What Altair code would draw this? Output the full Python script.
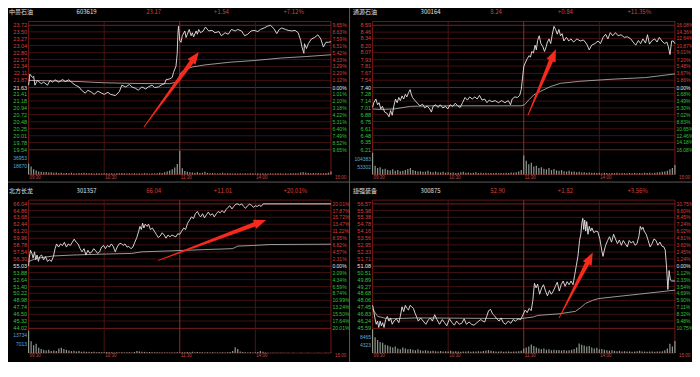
import altair as alt
import pandas as pd

# ------------------------------------------------------------------ header texts
NAMES = ["中曼石油", "通源石油", "北方长龙", "捷强装备"]
CODES = ["603619", "300164", "301357", "300875"]
LAST = ["23.17", "8.24", "66.04", "52.90"]
CHANGE = ["+1.54", "+0.84", "+11.01", "+1.82"]
CHANGE_PCT = ["+7.12%", "+11.35%", "+20.01%", "+3.56%"]

TIME_T = [0, 60, 120, 180]
TIME_TXT = ["09:30", "10:30", "11:30", "14:00"]
END_T = [240]
END_TXT = ["15:00"]

# ------------------------------------------------------------------ axis labels
TL_LEVELS = ["23.72", "23.50", "23.27", "23.04", "22.80", "22.57", "22.34", "22.11", "21.87", "21.63",
             "21.41", "21.18", "20.94", "20.72", "20.48", "20.25", "20.01", "19.78", "19.54"]
TL_PCTS = ["9.65%", "8.63%", "7.59%", "6.51%", "5.42%", "4.33%", "3.29%", "2.20%", "1.12%", "0.00%",
           "1.01%", "2.10%", "3.18%", "4.22%", "5.31%", "6.40%", "7.49%", "8.52%", "9.65%"]
TR_LEVELS = ["8.59", "8.46", "8.34", "8.20", "8.07", "7.93", "7.81", "7.67", "7.54", "7.40",
             "7.28", "7.14", "7.01", "6.88", "6.75", "6.61", "6.48", "6.35", "6.21"]
TR_PCTS = ["16.08%", "14.36%", "12.64%", "10.87%", "9.01%", "7.20%", "5.48%", "3.67%", "1.86%", "0.00%",
           "1.68%", "3.49%", "5.30%", "7.02%", "8.83%", "10.65%", "12.46%", "14.18%", "16.08%"]
BL_LEVELS = ["66.04", "64.86", "63.68", "62.44", "61.20", "59.96", "58.78", "57.54", "56.30", "55.03",
             "53.88", "52.64", "51.40", "50.22", "48.98", "47.74", "46.50", "45.32", "44.02"]
BL_PCTS = ["20.01%", "17.87%", "15.72%", "13.47%", "11.22%", "8.95%", "6.82%", "4.57%", "2.31%", "0.00%",
           "2.09%", "4.34%", "6.59%", "8.74%", "10.99%", "13.24%", "15.50%", "17.64%", "20.01%"]
BR_LEVELS = ["56.57", "55.98", "55.38", "54.78", "54.16", "53.56", "52.95", "52.33", "51.71", "51.08",
             "50.51", "49.89", "49.27", "48.68", "48.06", "47.45", "46.83", "46.24", "45.59"]
BR_PCTS = ["10.75%", "9.60%", "8.45%", "7.24%", "6.02%", "4.81%", "3.60%", "2.45%", "1.24%", "0.00%",
           "1.12%", "2.33%", "3.54%", "4.69%", "5.90%", "7.11%", "8.32%", "9.48%", "10.75%"]

VOL_LABELS = [["36953", "18670"], ["104383", "53302"], ["13734", "7013"], ["8465", "4323"]]
VOL_MAX = [56500, 170000, 18800, 13300]

# ------------------------------------------------------------------ price series (minute index, price)
TL_T = [0, 1, 3, 4, 5, 7, 10, 12, 15, 17,
        19, 21, 24, 27, 29, 32, 34, 37, 40, 42,
        45, 47, 50, 52, 55, 58, 60, 63, 65, 69,
        72, 74, 77, 80, 82, 85, 87, 90, 93, 95,
        98, 100, 103, 106, 108, 109, 112, 114, 115, 117,
        118, 118.5, 119, 120, 121, 122, 124, 125, 126, 127.5,
        129, 130, 131, 133, 134, 135, 136.5, 138.6, 140.4, 143,
        145.6, 148, 151, 153, 156, 158.5, 161, 164, 166, 169,
        171.5, 174, 176.6, 179, 182, 184, 187, 189.6, 192, 194.7,
        197, 199, 201, 204, 206, 209, 211.5, 214, 216, 217,
        218.5, 219, 220.6, 222, 224.5, 227, 229.6, 232, 234, 236,
        238, 240]
TL_P = [21.71, 22.08, 21.97, 22.01, 21.71, 21.87, 21.76, 21.81, 21.71, 21.87,
        21.81, 21.89, 21.81, 21.90, 21.83, 21.89, 21.81, 21.71, 21.65, 21.54,
        21.44, 21.54, 21.47, 21.40, 21.51, 21.44, 21.40, 21.47, 21.40, 21.36,
        21.49, 21.71, 21.65, 21.73, 21.65, 21.60, 21.54, 21.65, 21.58, 21.65,
        21.71, 21.63, 21.65, 21.73, 21.76, 21.89, 21.92, 21.97, 22.13, 22.35,
        22.78, 23.42, 23.69, 23.21, 23.15, 23.37, 23.53, 23.31, 23.42, 23.58,
        23.37, 23.47, 23.33, 23.53, 23.42, 23.58, 23.47, 23.53, 23.66, 23.53,
        23.55, 23.47, 23.51, 23.37, 23.47, 23.42, 23.58, 23.53, 23.58, 23.53,
        23.37, 23.42, 23.53, 23.55, 23.51, 23.58, 23.63, 23.69, 23.72, 23.61,
        23.44, 23.58, 23.63, 23.58, 23.55, 23.53, 23.55, 23.47, 23.21, 22.99,
        22.78, 23.10, 22.94, 23.10, 23.26, 23.31, 23.40, 23.26, 22.99, 23.15,
        23.15, 23.17]
TL_AVG_T = [0, 20, 40, 60, 80, 100, 112, 117, 119, 121, 124, 130, 140, 160, 180, 200, 220, 240]
TL_AVG_P = [21.87, 21.85, 21.83, 21.79, 21.77, 21.76, 21.76, 21.81, 21.94, 22.13, 22.24, 22.32, 22.39,
            22.48, 22.54, 22.62, 22.67, 22.73]

TR_T = [0, 1, 2.6, 4, 5.2, 6.5, 7.8, 9.6, 11.7, 13,
        14.3, 15.6, 16.9, 18.2, 19.5, 20.8, 22, 23.4, 24.7, 26,
        27.2, 28.5, 29.8, 30.6, 31.7, 33.7, 35.6, 37.6, 39.7, 41.5,
        43.3, 45.4, 46.7, 48, 50, 52, 53.7, 55.8, 57.9, 59.7,
        61.5, 63.6, 65.7, 67.5, 69.5, 71.4, 73.4, 75.3, 77.1, 79.1,
        81.2, 83, 84.9, 86.9, 89, 90.8, 92.6, 94.7, 97.3, 99.9,
        102.5, 105.1, 107.7, 109.5, 110.8, 112.9, 115, 116.8, 118, 119.1,
        120.1, 121.2, 122.7, 124.3, 125.3, 126.4, 127.7, 129, 130, 131,
        132.3, 133.6, 135.2, 136.5, 137.8, 138.8, 140.1, 141.4, 142.7, 144,
        145.3, 146.6, 147.9, 149.2, 150.5, 151.8, 153.9, 155.7, 157.5, 159.6,
        162.2, 164.8, 167.4, 170, 172, 173.9, 176.5, 179, 180.9, 183,
        185, 186.8, 188.7, 190.7, 192.8, 194.9, 197.2, 199.8, 202.4, 205,
        206.8, 208.9, 211, 212.8, 214.6, 216.7, 218.2, 219.8, 221.9, 224,
        225.8, 227.6, 229.7, 231.7, 233.6, 234.8, 236.1, 237.4, 238.7, 240]
TR_P = [7.02, 7.11, 7.18, 7.07, 7.11, 6.99, 7.04, 6.93, 6.90, 6.84,
        6.96, 6.87, 7.05, 7.18, 7.11, 7.21, 7.15, 7.24, 7.18, 7.27,
        7.22, 7.30, 7.36, 7.28, 7.21, 7.15, 7.10, 7.05, 7.08, 7.01,
        7.05, 6.99, 6.93, 7.04, 7.07, 7.02, 7.07, 7.01, 7.04, 6.99,
        7.07, 7.04, 7.10, 7.05, 7.02, 7.11, 7.21, 7.16, 7.22, 7.18,
        7.22, 7.18, 7.25, 7.16, 7.18, 7.11, 7.16, 7.13, 7.15, 7.11,
        7.15, 7.11, 7.15, 7.07, 7.18, 7.22, 7.21, 7.25, 7.36, 7.60,
        7.81, 7.87, 7.95, 8.01, 7.98, 8.09, 8.06, 8.21, 8.12, 8.30,
        8.39, 8.24, 8.18, 8.09, 8.18, 8.27, 8.33, 8.24, 8.42, 8.57,
        8.51, 8.42, 8.51, 8.39, 8.43, 8.29, 8.36, 8.29, 8.33, 8.27,
        8.33, 8.29, 8.31, 8.23, 8.12, 8.21, 8.24, 8.29, 8.24, 8.36,
        8.42, 8.33, 8.45, 8.39, 8.45, 8.39, 8.41, 8.36, 8.37, 8.33,
        8.27, 8.21, 8.30, 8.24, 8.33, 8.25, 8.41, 8.23, 8.30, 8.33,
        8.27, 8.36, 8.29, 8.24, 8.27, 8.18, 8.03, 8.29, 8.29, 8.24]
TR_AVG_T = [0, 6.5, 17, 30, 48, 74, 100, 118, 120.6, 124.3, 128, 133.6, 141.4, 149, 164.8, 190.7, 216.7, 240]
TR_AVG_P = [6.99, 6.98, 6.99, 7.04, 7.05, 7.05, 7.05, 7.05, 7.07, 7.17, 7.26, 7.33, 7.42, 7.48, 7.52,
            7.56, 7.59, 7.66]

BL_T = [0, 0.5, 1.5, 2.6, 3.6, 4.7, 5.7, 6.7, 7.8, 8.8,
        10.3, 11.9, 13.4, 15, 16.6, 18.1, 19.7, 21, 22.2, 23.8,
        25.3, 26.9, 28.4, 30, 31.5, 33.1, 34.7, 36.2, 37.8, 39.3,
        40.9, 42.4, 44, 45.5, 47.1, 48.6, 50.2, 51.7, 53.3, 54.8,
        56.4, 57.9, 59.5, 61, 62.6, 64.1, 65.7, 67.2, 68.8, 70.3,
        71.9, 73.4, 75, 76.5, 78.1, 79.6, 81.2, 82.8, 84.3, 85.9,
        87.4, 88.4, 89.5, 90.5, 91.5, 92.6, 94.1, 95.2, 96.7, 98.3,
        99.8, 101.4, 102.9, 104.5, 106, 107.6, 109.1, 110.7, 112.2, 113.8,
        115.3, 116.9, 118.4, 120, 121.5, 123.1, 124.6, 126.2, 127.8, 129.3,
        130.9, 132.4, 134, 135.5, 136.5, 138.1, 139.6, 141.2, 142.7, 144.3,
        145.9, 147.4, 149, 150.5, 152.1, 153.6, 155.2, 156.7, 158.3, 159.8,
        161.4, 162.9, 164.5, 166, 167.6, 169.1, 170.7, 172.2, 173.8, 175.3,
        176.9, 178.4, 180, 181.5, 183.1, 184.6, 186.2, 240]
BL_P = [55.03, 56.44, 57.84, 57.28, 56.44, 57.56, 56.15, 57.00, 55.87, 56.72,
        57.00, 56.15, 56.72, 55.87, 56.15, 55.87, 56.72, 58.12, 58.96, 58.40,
        58.96, 58.68, 59.25, 58.40, 58.96, 58.68, 59.25, 59.81, 59.25, 58.96,
        58.12, 57.56, 58.12, 57.00, 57.84, 57.28, 57.56, 58.12, 57.73, 57.28,
        57.56, 58.40, 58.68, 58.12, 58.68, 58.40, 58.96, 58.51, 57.56, 58.40,
        58.96, 59.08, 58.68, 58.96, 58.40, 58.51, 58.12, 58.40, 59.25, 60.09,
        61.21, 62.06, 61.50, 62.62, 61.77, 62.45, 62.06, 62.45, 61.50, 61.77,
        61.21, 60.65, 60.09, 60.37, 60.93, 60.54, 59.98, 60.54, 60.20, 60.54,
        60.37, 60.20, 60.76, 60.65, 61.21, 61.77, 61.50, 62.62, 63.18, 63.74,
        63.46, 64.30, 64.70, 64.02, 63.74, 64.30, 63.57, 64.13, 64.58, 64.02,
        64.30, 63.74, 64.30, 64.70, 64.47, 64.86, 64.47, 65.03, 65.43, 65.71,
        65.15, 65.59, 65.99, 66.04, 65.82, 66.04, 65.59, 65.26, 65.71, 65.99,
        65.82, 65.43, 65.71, 65.59, 65.82, 65.59, 66.04, 66.04]
BL_AVG_T = [0, 7, 20, 36, 62, 82, 90, 113, 139, 162, 166, 178, 191, 240]
BL_AVG_P = [55.87, 56.44, 56.83, 57.00, 57.17, 57.28, 57.56, 57.73, 57.95, 58.12, 58.57, 58.68, 58.85, 58.91]

BR_T = [0, 0.8, 1.8, 2.9, 3.9, 4.9, 6, 7, 8, 9.1,
        10.4, 11.7, 13, 14.3, 15.6, 16.9, 18.9, 20.8, 22, 23.4,
        24.7, 26, 27.2, 28.5, 29.8, 31.1, 32.4, 33.7, 35, 36.3,
        38.1, 40.2, 42.3, 44.1, 45.9, 47.5, 49.3, 51.1, 53.2, 55.3,
        57.1, 58.9, 61, 63.1, 64.9, 66.7, 68.8, 70.8, 72.7, 74.5,
        76.6, 78.6, 80.4, 82.3, 84.3, 85.9, 87.5, 89, 90.6, 92.1,
        93.7, 95.2, 96.8, 98.6, 100.4, 102, 103.8, 105.6, 107.7, 109.8,
        111.6, 113.4, 115.5, 117.6, 119.4, 121.2, 122.7, 124.3, 125.9, 127.2,
        128.5, 129.8, 131, 132.6, 134.2, 135.7, 137.3, 138.8, 140.4, 141.9,
        143.5, 145.1, 146.6, 148.2, 149.7, 151.3, 152.8, 154.4, 156, 157.5,
        159.1, 160.4, 161.7, 163, 164.3, 165.3, 166.1, 166.9, 167.6, 168.4,
        169.2, 170, 171, 172, 173.1, 174.1, 175.7, 177.2, 178.8, 180.4,
        181.9, 182.9, 184, 185, 186.6, 188.1, 189.7, 191.3, 192.8, 194.4,
        195.9, 197.5, 199, 200.6, 202.2, 203.7, 205.3, 206.8, 208.4, 209.9,
        211.5, 212.5, 213.6, 214.6, 215.6, 217.2, 218.8, 220.3, 221.9, 223.4,
        225, 226.5, 228.1, 229.7, 231.2, 232.3, 233.3, 234.4, 235.4, 236.4,
        237.4, 240]
BR_P = [47.62, 47.21, 46.51, 45.95, 46.23, 45.67, 46.23, 45.81, 46.09, 45.67,
        46.37, 46.65, 46.23, 46.51, 45.95, 46.23, 46.43, 46.09, 46.65, 47.49,
        47.07, 47.62, 47.35, 47.21, 47.62, 47.49, 47.35, 46.93, 46.59, 46.23,
        46.51, 46.23, 45.95, 46.31, 46.51, 46.23, 46.79, 46.37, 45.95, 46.37,
        46.09, 45.81, 46.43, 46.09, 45.87, 46.23, 45.95, 46.04, 46.43, 45.95,
        46.15, 45.95, 45.87, 46.04, 46.23, 46.37, 46.23, 46.15, 46.65, 47.15,
        47.26, 46.87, 46.70, 46.43, 46.23, 46.51, 46.09, 45.95, 46.23, 46.04,
        46.37, 46.23, 46.43, 46.37, 46.79, 47.21, 46.98, 47.35, 47.15, 48.04,
        49.57, 49.16, 49.49, 48.60, 49.16, 49.44, 48.88, 48.46, 48.93, 48.60,
        48.88, 49.30, 49.66, 48.88, 49.44, 49.77, 49.30, 49.71, 49.44, 49.77,
        49.44, 50.27, 51.11, 51.94, 53.34, 53.89, 54.87, 55.29, 54.31, 55.15,
        54.17, 55.01, 53.89, 54.59, 54.17, 54.45, 54.03, 54.17, 54.12, 53.48,
        52.50, 51.94, 52.50, 52.92, 53.34, 53.67, 53.20, 53.89, 53.48, 53.06,
        53.39, 52.92, 53.34, 53.06, 52.78, 53.34, 53.11, 53.28, 52.92, 53.06,
        53.76, 54.59, 54.31, 54.51, 54.17, 53.89, 53.34, 52.78, 53.06, 53.48,
        53.34, 52.92, 53.20, 52.84, 52.78, 52.50, 51.11, 49.02, 50.69, 49.85,
        49.77, 49.77]
BR_AVG_T = [0, 4, 12, 35, 74, 118, 127.8, 131, 148, 161, 165, 169, 174.5, 179, 190, 211, 240]
BR_AVG_P = [47.30, 46.65, 46.43, 46.51, 46.48, 46.45, 46.60, 46.73, 46.87, 47.09, 47.40, 47.79, 48.05,
            48.21, 48.35, 48.60, 48.96]

# ------------------------------------------------------------------ volumes, one bar every 2 minutes
TL_VOL = [25000, 18000, 12000, 9000, 7000, 6000, 5000, 5500, 4500, 5000,
          4000, 4500, 3500, 4000, 3000, 3500, 3000, 4000, 3000, 2500,
          3500, 3000, 4000, 3000, 2500, 3000, 2000, 2500, 3000, 2000,
          2500, 3000, 2000, 2500, 2000, 3000, 2500, 3500, 2500, 2000,
          2500, 2000, 3000, 2000, 2500, 2000, 3000, 2500, 2000, 3000,
          2500, 3000, 4000, 3500, 5000, 7000, 9000, 12000, 16000, 24000,
          54000, 14000, 8000, 6000, 5000, 4500, 4000, 5000, 3500, 4000,
          6000, 3500, 3000, 3500, 3000, 2500, 3000, 4000, 2500, 3000,
          2500, 2000, 2500, 2000, 2500, 2000, 2500, 2000, 3000, 2500,
          2000, 2500, 2000, 3000, 2500, 2000, 2500, 2000, 2500, 3000,
          2500, 2000, 2500, 2000, 2500, 3000, 2500, 3000, 4500, 5000,
          4000, 3500, 3000, 3500, 3000, 3500, 2500, 3000, 3500, 4000,
          7000]
TR_VOL = [150000, 60000, 45000, 50000, 35000, 40000, 30000, 28000, 35000, 25000,
          30000, 22000, 25000, 30000, 38000, 45000, 30000, 25000, 20000, 22000,
          18000, 20000, 25000, 18000, 15000, 20000, 16000, 14000, 18000, 12000,
          15000, 12000, 14000, 10000, 12000, 15000, 18000, 12000, 14000, 10000,
          12000, 15000, 10000, 12000, 9000, 11000, 8000, 10000, 9000, 12000,
          8000, 10000, 9000, 12000, 10000, 14000, 12000, 16000, 20000, 30000,
          130000, 95000, 70000, 80000, 55000, 60000, 45000, 50000, 40000, 35000,
          45000, 30000, 38000, 28000, 25000, 30000, 22000, 20000, 25000, 18000,
          20000, 16000, 18000, 14000, 15000, 12000, 14000, 11000, 12000, 10000,
          12000, 9000, 11000, 10000, 8000, 10000, 9000, 11000, 8000, 10000,
          9000, 8000, 10000, 9000, 11000, 8000, 10000, 9000, 12000, 10000,
          11000, 9000, 12000, 14000, 15000, 18000, 20000, 25000, 35000, 45000,
          65000]
BL_VOL = [17000, 9000, 6000, 7000, 4000, 3000, 2500, 2000, 2500, 1500,
          2000, 1500, 3500, 4000, 3000, 2500, 2000, 1500, 1800, 1200,
          1500, 1000, 1200, 900, 1000, 800, 900, 700, 800, 600,
          700, 800, 600, 700, 500, 600, 500, 600, 500, 700,
          600, 500, 800, 1500, 1200, 1000, 900, 700, 800, 600,
          500, 600, 500, 400, 500, 400, 500, 400, 500, 600,
          500, 700, 600, 800, 700, 900, 600, 800, 700, 600,
          500, 600, 500, 600, 500, 400, 500, 600, 500, 700,
          800, 1500, 4500, 3000, 1200, 800, 600, 500, 600, 500,
          700, 800, 1500, 1000, 400, 300, 200, 300, 200, 150,
          200, 150, 100, 150, 100, 150, 100, 100, 150, 100,
          100, 150, 100, 100, 100, 150, 100, 100, 150, 100,
          200]
BR_VOL = [12800, 8500, 7000, 6000, 5500, 4500, 4000, 3500, 3000, 3500,
          2500, 2000, 3000, 2500, 2000, 2200, 1800, 1500, 2000, 1500,
          1200, 1500, 1200, 1000, 1300, 1000, 900, 1100, 800, 1000,
          900, 1200, 800, 1000, 900, 700, 900, 800, 1000, 700,
          900, 800, 1000, 900, 1100, 1400, 1600, 1200, 1000, 900,
          800, 1000, 700, 900, 800, 700, 900, 800, 1000, 1200,
          2500, 3000, 3500, 4600, 3800, 3000, 2500, 2000, 2500, 1800,
          2000, 1500, 1800, 1500, 1700, 1400, 1600, 1300, 1500, 1800,
          2200, 3000, 5100, 4500, 4000, 3500, 3800, 3000, 2500, 2800,
          2000, 2200, 1800, 1500, 1300, 1500, 1200, 1000, 1200, 900,
          1000, 800, 900, 700, 800, 1000, 1200, 900, 800, 700,
          900, 800, 700, 900, 800, 1000, 1500, 2500, 5000, 3500,
          6500]

# ------------------------------------------------------------------ red annotation arrows (tail, shaft end, tip)
ARROW_T = [[91.7, 129.7, 135.1], [123.3, 141.9, 145.5], [103.1, 179.8, 188.5], [148.1, 170.6, 174.8]]
ARROW_P = [[20.31, 22.51, 22.82], [6.87, 7.93, 8.13], [56.04, 62.45, 63.18], [46.51, 51.39, 52.28]]
ARROW_ANGLE = [36.5, 23, 70, 27]

# ------------------------------------------------------------------ layout / style
W, H = 684, 354


def mx(X):
    return round((X - 2) * 0.98 + 1, 2)


def my(Y):
    return round((Y - 10) * 0.95 + 4, 2)


GRID = "#541515"
MAJOR = "#9c2424"
FRAME = "#7e1d1d"
NOON = "#a82a2a"
UPC = "#d8403a"
DNC = "#36c236"
ZEROC = "#e6e6e6"
VOLLAB = "#5aa9d6"
TIMEC = "#c24a4a"
PRICEC = "#e6e6e6"
AVGC = "#bcbcbc"
VOLC = "#8e988e"
ARROWC = "#f52a1c"
SEPC = "#5a5a5a"
NUMFONT = "Liberation Sans"
CJKFONT = "Noto Sans CJK SC"

PANELS = [
    (TL_LEVELS, TL_PCTS, TL_T, TL_P, TL_AVG_T, TL_AVG_P, TL_VOL, 0, 0),
    (TR_LEVELS, TR_PCTS, TR_T, TR_P, TR_AVG_T, TR_AVG_P, TR_VOL, 351, 0),
    (BL_LEVELS, BL_PCTS, BL_T, BL_P, BL_AVG_T, BL_AVG_P, BL_VOL, 0, 188),
    (BR_LEVELS, BR_PCTS, BR_T, BR_P, BR_AVG_T, BR_AVG_P, BR_VOL, 351, 188),
]

one = pd.DataFrame({"a": [0]})
layers = []

# panel separators
layers.append(alt.Chart(one).mark_rule(color=SEPC, strokeWidth=1).encode(
    x=alt.value(mx(349.5)), y=alt.value(0), y2=alt.value(H)))
layers.append(alt.Chart(one).mark_rule(color=SEPC, strokeWidth=1).encode(
    y=alt.value(my(189)), x=alt.value(0), x2=alt.value(W)))

for i, (levels, pcts, pt, pp, at, ap, vol, left, top) in enumerate(PANELS):
    x0, x1 = left + 22, left + 330.5
    ftop, ptop, pbot, vbot = top + 20, top + 24, top + 155, top + 181
    lo, hi = float(levels[-1]), float(levels[0])
    xs = alt.Scale(domain=[0, 240], range=[mx(x0), mx(x1)], nice=False, zero=False)
    ys = alt.Scale(domain=[lo, hi], range=[my(pbot), my(ptop)], nice=False, zero=False)
    vs = alt.Scale(domain=[0, VOL_MAX[i]], range=[my(vbot), my(pbot)], nice=False, zero=False)

    def X(f="t"):
        return alt.X(f"{f}:Q", scale=xs, axis=None)

    def Y(f="p"):
        return alt.Y(f"{f}:Q", scale=ys, axis=None)

    lvl_colors = [UPC if k < 9 else (ZEROC if k == 9 else DNC) for k in range(len(levels))]
    grid_df = pd.DataFrame({
        "p": [float(v) for v in levels],
        "c": [MAJOR if k in (0, 9, 18) else GRID for k in range(len(levels))],
    })
    layers.append(alt.Chart(grid_df).mark_rule(strokeWidth=0.8).encode(
        y=Y(), x=alt.value(mx(x0)), x2=alt.value(mx(x1)), color=alt.Color("c:N", scale=None)))

    frame_df = pd.DataFrame({"y": [my(ftop), my(vbot)]})
    layers.append(alt.Chart(frame_df).mark_rule(strokeWidth=0.8, color=FRAME).encode(
        y=alt.Y("y:Q", scale=None, axis=None), x=alt.value(mx(x0)), x2=alt.value(mx(x1))))

    vgrid_df = pd.DataFrame({"t": [0, 60, 120, 180, 240], "c": [FRAME, GRID, NOON, GRID, FRAME]})
    layers.append(alt.Chart(vgrid_df).mark_rule(strokeWidth=0.9).encode(
        x=X(), y=alt.value(my(ftop)), y2=alt.value(my(vbot)), color=alt.Color("c:N", scale=None)))

    vol_df = pd.DataFrame({"t": [2 * k for k in range(len(vol))], "v": vol})
    layers.append(alt.Chart(vol_df).mark_rule(strokeWidth=1.2, color=VOLC).encode(
        x=X(), y=alt.Y("v:Q", scale=vs, axis=None), y2=alt.datum(0)))

    avg_df = pd.DataFrame({"t": at, "p": ap})
    layers.append(alt.Chart(avg_df).mark_line(color=AVGC, strokeWidth=0.8).encode(x=X(), y=Y()))

    price_df = pd.DataFrame({"t": pt, "p": pp})
    layers.append(alt.Chart(price_df).mark_line(color=PRICEC, strokeWidth=0.9).encode(x=X(), y=Y()))

    left_df = pd.DataFrame({"p": [float(v) for v in levels], "txt": levels, "c": lvl_colors})
    layers.append(alt.Chart(left_df).mark_text(align="right", baseline="middle", fontSize=5.5,
                                               font=NUMFONT).encode(
        y=Y(), x=alt.value(mx(x0 - 1.5)), text="txt:N", color=alt.Color("c:N", scale=None)))

    right_df = pd.DataFrame({"p": [float(v) for v in levels], "txt": pcts, "c": lvl_colors})
    layers.append(alt.Chart(right_df).mark_text(align="left", baseline="middle", fontSize=5,
                                                font=NUMFONT).encode(
        y=Y(), x=alt.value(mx(x1 + 1.5)), text="txt:N", color=alt.Color("c:N", scale=None)))

    vlab_df = pd.DataFrame({"v": [float(v) for v in VOL_LABELS[i]], "txt": VOL_LABELS[i]})
    layers.append(alt.Chart(vlab_df).mark_text(align="right", baseline="middle", fontSize=5,
                                               font=NUMFONT, color=VOLLAB).encode(
        y=alt.Y("v:Q", scale=vs, axis=None), x=alt.value(mx(x0 - 1.5)), text="txt:N"))

    time_df = pd.DataFrame({"t": TIME_T, "txt": TIME_TXT})
    layers.append(alt.Chart(time_df).mark_text(align="left", baseline="middle", fontSize=4.5, dx=1,
                                               font=NUMFONT, color=TIMEC).encode(
        x=X(), y=alt.value(my(top + 184.5)), text="txt:N"))
    end_df = pd.DataFrame({"t": END_T, "txt": END_TXT})
    layers.append(alt.Chart(end_df).mark_text(align="left", baseline="middle", fontSize=4.5, dx=4,
                                              font=NUMFONT, color=TIMEC).encode(
        x=X(), y=alt.value(my(top + 184.5)), text="txt:N"))

    head_df = pd.DataFrame({
        "x": [mx(left + o) for o in (2, 71, 142, 211, 282)],
        "txt": [NAMES[i], CODES[i], LAST[i], CHANGE[i], CHANGE_PCT[i]],
        "c": ["#e0e0e0", "#e0e0e0", UPC, UPC, UPC],
    })
    layers.append(alt.Chart(head_df).mark_text(align="left", baseline="middle", fontSize=6,
                                               font=CJKFONT).encode(
        x=alt.X("x:Q", scale=None, axis=None), y=alt.value(my(top + 10)), text="txt:N",
        color=alt.Color("c:N", scale=None)))

    shaft_df = pd.DataFrame({"t": ARROW_T[i][:2], "p": ARROW_P[i][:2], "w": [0, 1]})
    layers.append(alt.Chart(shaft_df).mark_trail(color=ARROWC).encode(
        x=X(), y=Y(), size=alt.Size("w:Q", scale=alt.Scale(domain=[0, 1], range=[0.8, 4.5]), legend=None)))

    tip_df = pd.DataFrame({"t": ARROW_T[i][2:], "p": ARROW_P[i][2:]})
    layers.append(alt.Chart(tip_df).mark_point(shape="M0,0L-0.4,1L0.4,1Z", filled=True, size=600,
                                               angle=ARROW_ANGLE[i], color=ARROWC, opacity=1,
                                               strokeWidth=0).encode(x=X(), y=Y()))

chart = alt.layer(*layers).resolve_scale(
    x="independent", y="independent", size="independent"
).properties(
    width=W, height=H, background="black", padding=0,
    autosize=alt.AutoSizeParams(type="none"),
).configure_view(stroke=None)

chart.save("out.html", embed_options={"renderer": "svg", "actions": False})
